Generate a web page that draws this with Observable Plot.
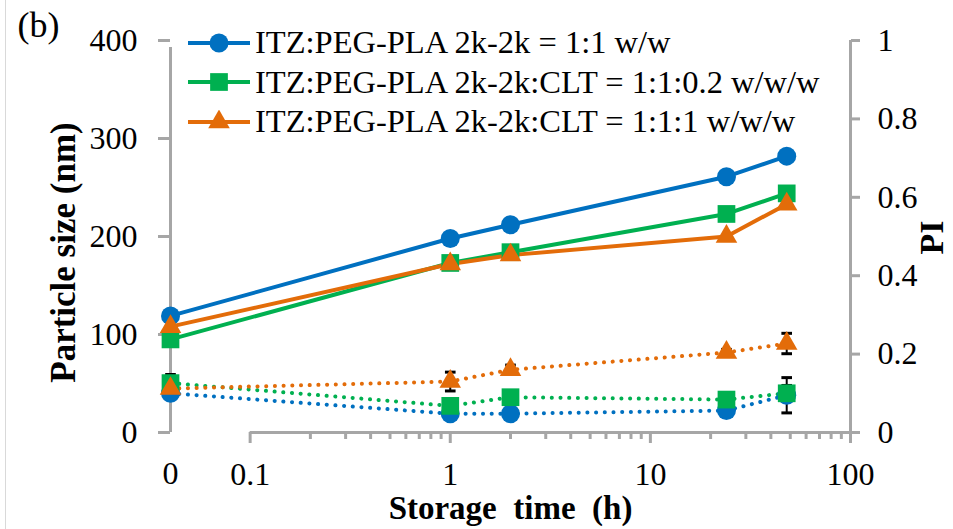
<!DOCTYPE html>
<html><head><meta charset="utf-8">
<script src="https://cdn.jsdelivr.net/npm/d3@7"></script>
<script src="https://cdn.jsdelivr.net/npm/@observablehq/plot@0.6"></script>
<style>
body{margin:0;background:#fff;}
#wrap{position:relative;width:953px;height:529px;font-family:"Liberation Serif","Times New Roman",serif;overflow:hidden;}
#legend{position:absolute;left:188px;top:23px;font-size:32.5px;color:#000;}
.item{display:flex;align-items:center;height:39.5px;white-space:nowrap;}
.item svg{margin-right:5px;flex:none;}
#border{position:absolute;left:5px;top:0;width:1px;height:529px;background:#d9d9d9;}
</style></head><body>
<div id="wrap"><div id="border"></div><div id="chart"></div><div id="legend"></div></div>
<script>
// ---- data ----
const times = [0, 1, 2, 24, 48];           // storage time (h)
const ZERO_POS = 0.04;                      // where t = 0 sits on the log axis
const seriesNames = ["ITZ:PEG-PLA 2k-2k = 1:1 w/w", "ITZ:PEG-PLA 2k-2k:CLT = 1:1:0.2 w/w/w", "ITZ:PEG-PLA 2k-2k:CLT = 1:1:1 w/w/w"];
const seriesColors = ["#0070C0", "#00B050", "#E36C09"];
const seriesSymbols = ["circle", "square", "triangle"];
const sizeBlue   = [119, 198, 212, 261, 282];
const sizeGreen  = [95, 173, 184, 223, 244];
const sizeOrange = [108, 172, 181, 200, 233];
const piBlue   = [0.100, 0.048, 0.048, 0.056, 0.095];
const piGreen  = [0.126, 0.068, 0.090, 0.084, 0.100];
const piOrange = [0.112, 0.130, 0.160, 0.204, 0.227];
const piErrBlue   = [0.008, 0.005, 0.005, 0.005, 0.045];
const piErrGreen  = [0.022, 0.008, 0.008, 0.008, 0.020];
const piErrOrange = [0.010, 0.024, 0.012, 0.008, 0.026];
const sizeTicks = [0, 100, 200, 300, 400];
const piTicks = [0, 0.2, 0.4, 0.6, 0.8, 1];
const xTicks = [0.1, 1, 10, 100];
const xTickLabels = ["0.1", "1", "10", "100"];
const zeroLabel = "0";
const xMinorTicks = [0.2,0.3,0.4,0.5,0.6,0.7,0.8,0.9,2,3,4,5,6,7,8,9,20,30,40,50,60,70,80,90];
const SIZE_MAX = 400, PI_MAX = 1;

// ---- build table ----
const sizes = [sizeBlue, sizeGreen, sizeOrange];
const pis = [piBlue, piGreen, piOrange];
const errs = [piErrBlue, piErrGreen, piErrOrange];
const k = SIZE_MAX / PI_MAX;
const series = seriesNames.map((name, s) => times.map((t, i) => ({
  name, t: t === 0 ? ZERO_POS : t,
  size: sizes[s][i], pi: pis[s][i] * k,
  lo: (pis[s][i] - errs[s][i]) * k, hi: (pis[s][i] + errs[s][i]) * k
})));

const gray = "#a6a6a6";
const capSymbol = {draw(ctx, size) { const w = Math.sqrt(size) / 2; ctx.moveTo(-w, 0); ctx.lineTo(w, 0); }};
const symSize = {circle: 9.5, square: 10, triangle: 8};

const marks = [
  // axis lines
  Plot.ruleY([0], {x1: 0.1, x2: 100, stroke: gray, strokeWidth: 3}),
  Plot.ruleX([ZERO_POS], {y1: 0, y2: SIZE_MAX, stroke: gray, strokeWidth: 3, insetBottom: -7}),
  Plot.ruleX([100], {y1: 0, y2: SIZE_MAX, stroke: gray, strokeWidth: 3}),
  Plot.axisY({ticks: sizeTicks, anchor: "left", label: null, tickSize: 12, tickPadding: 21, stroke: gray, strokeWidth: 3, fontSize: 32, tickFormat: d => String(d)}),
  Plot.axisY({ticks: piTicks.map(v => v * k), anchor: "right", label: null, tickSize: 9, tickPadding: 18, stroke: gray, strokeWidth: 3, fontSize: 32,
              tickFormat: v => String(piTicks[piTicks.findIndex(p => Math.abs(p * k - v) < 1e-6)])}),
  Plot.axisX({ticks: xTicks, anchor: "bottom", label: null, tickSize: 11, tickPadding: 19, stroke: gray, strokeWidth: 3, fontSize: 32,
              tickFormat: v => xTickLabels[xTicks.indexOf(v)]}),
  Plot.axisX({ticks: xMinorTicks, anchor: "bottom", label: null, tickSize: 7, stroke: gray, strokeWidth: 3, tickFormat: () => ""}),
  Plot.text([ZERO_POS], {x: d => d, frameAnchor: "bottom", dy: 41, text: () => zeroLabel, fontSize: 32, lineAnchor: "middle"}),
];

// PI (dotted) series
series.forEach((d, s) => {
  marks.push(Plot.line(d, {x: "t", y: "pi", stroke: seriesColors[s], strokeWidth: 4, strokeDasharray: "0.1 8.6", strokeLinecap: "round"}));
});
series.forEach((d, s) => {
  marks.push(Plot.ruleX(d, {x: "t", y1: "lo", y2: "hi", stroke: "#000", strokeWidth: 2}));
  marks.push(Plot.dot(d, {x: "t", y: "lo", symbol: capSymbol, r: 6, stroke: "#000", strokeWidth: 3}));
  marks.push(Plot.dot(d, {x: "t", y: "hi", symbol: capSymbol, r: 6, stroke: "#000", strokeWidth: 3}));
});
series.forEach((d, s) => {
  marks.push(Plot.dot(d, {x: "t", y: "pi", symbol: seriesSymbols[s], r: symSize[seriesSymbols[s]], fill: seriesColors[s], stroke: "none"}));
});
// particle size (solid) series
series.forEach((d, s) => {
  marks.push(Plot.line(d, {x: "t", y: "size", stroke: seriesColors[s], strokeWidth: 4}));
});
series.forEach((d, s) => {
  marks.push(Plot.dot(d, {x: "t", y: "size", symbol: seriesSymbols[s], r: symSize[seriesSymbols[s]], fill: seriesColors[s], stroke: "none"}));
});
// titles
marks.push(Plot.text(["Particle size (nm)"], {frameAnchor: "left", textAnchor: "middle", lineAnchor: "middle", dx: -107, dy: 16, rotate: -90, fontWeight: "bold", fontSize: 35}));
marks.push(Plot.text(["PI"], {frameAnchor: "right", textAnchor: "middle", lineAnchor: "middle", dx: 82, dy: 1, rotate: -90, fontWeight: "bold", fontSize: 34}));
marks.push(Plot.text(["Storage  time  (h)"], {frameAnchor: "bottom", textAnchor: "middle", lineAnchor: "middle", dy: 76, fontWeight: "bold", fontSize: 33}));
marks.push(Plot.text(["(b)"], {frameAnchor: "top-left", textAnchor: "middle", lineAnchor: "middle", dx: -132, dy: -15, fontSize: 36}));

const chart = Plot.plot({
  width: 953, height: 529,
  marginLeft: 170, marginRight: 103, marginTop: 40, marginBottom: 97,
  x: {type: "log", domain: [ZERO_POS, 100], label: null},
  y: {domain: [0, SIZE_MAX], label: null},
  style: {fontFamily: "'Liberation Serif', 'Times New Roman', serif", fontSize: "32px", color: "#000", background: "transparent", overflow: "visible"},
  marks
});
document.getElementById("chart").appendChild(chart);

// legend
const legend = document.getElementById("legend");
seriesNames.forEach((name, s) => {
  const item = document.createElement("div");
  item.className = "item";
  const sw = d3.create("svg").attr("width", 62).attr("height", 24);
  sw.append("line").attr("x1", 0).attr("x2", 62).attr("y1", 12).attr("y2", 12).attr("stroke", seriesColors[s]).attr("stroke-width", 4);
  const r = symSize[seriesSymbols[s]];
  const sym = {circle: d3.symbolCircle, square: d3.symbolSquare, triangle: d3.symbolTriangle}[seriesSymbols[s]];
  sw.append("path").attr("transform", "translate(31,12)").attr("d", d3.symbol(sym, Math.PI * r * r)()).attr("fill", seriesColors[s]);
  item.appendChild(sw.node());
  const span = document.createElement("span");
  span.textContent = name;
  item.appendChild(span);
  legend.appendChild(item);
});
</script>
</body></html>
